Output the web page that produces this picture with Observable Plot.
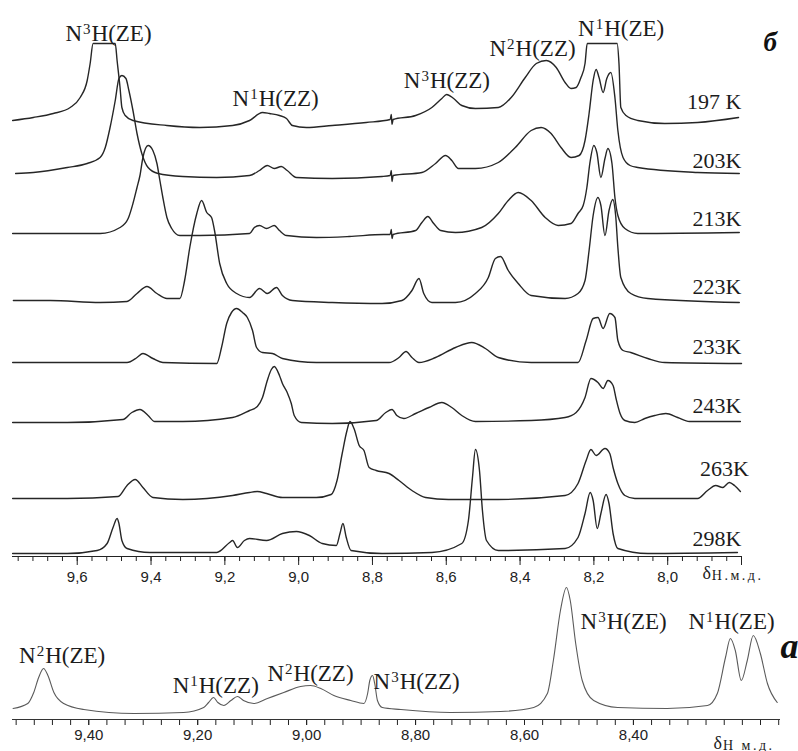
<!DOCTYPE html>
<html><head><meta charset="utf-8">
<script src="https://cdn.jsdelivr.net/npm/d3@7"></script>
<script src="https://cdn.jsdelivr.net/npm/@observablehq/plot@0.6"></script>
<style>
body{margin:0;background:#fff;}
#chart{position:relative;width:798px;height:751px;overflow:hidden;background:#fff;}
#chart svg{position:absolute;left:0;overflow:visible;background:transparent;}
</style></head><body><div id="chart"></div>
<script>
// ---------- data: top panel (б), chemical shift ppm vs relative intensity ----------
const temps = ["197 K","203K","213K","223K","233K","243K","263K","298K"];
const offsets = [439,383,324,254,193,135,58,4];          // stacking offsets (a.u.)
const labelY = [448,389,331,263,203,144,81,11];
const labelX = [7.80,7.80,7.80,7.80,7.80,7.80,7.78,7.80];

const t197 = [[9.775,-3],[9.719,0],[9.665,4],[9.619,10],[9.592,20],[9.573,37],[9.565,54],[9.557,74],[9.497,74],[9.492,57],[9.484,30],[9.479,10],[9.470,2],[9.449,-3],[9.357,-8],[9.268,-10],[9.179,-8],[9.133,-3],[9.098,5],[9.079,4],[9.052,2],[9.033,-1],[9.017,-8],[8.979,-10],[8.909,-8],[8.817,-5],[8.752,-2],[8.749,3],[8.747,-7],[8.744,-2],[8.683,2],[8.639,10],[8.612,19],[8.599,23],[8.580,19],[8.558,12],[8.521,9],[8.459,10],[8.424,20],[8.386,40],[8.356,54],[8.329,57],[8.302,50],[8.278,35],[8.262,29],[8.248,30],[8.235,40],[8.224,54],[8.218,74],[8.137,74],[8.132,54],[8.127,10],[8.113,2],[8.081,-3],[8.008,-6],[7.919,-5],[7.808,0]];
const t203 = [[9.767,0],[9.719,1],[9.627,6],[9.573,10],[9.538,16],[9.524,26],[9.511,46],[9.497,73],[9.487,95],[9.479,98],[9.468,95],[9.460,83],[9.449,63],[9.438,40],[9.425,20],[9.408,6],[9.381,0],[9.314,-3],[9.222,-4],[9.133,-2],[9.106,3],[9.085,8],[9.066,5],[9.047,7],[9.031,3],[9.006,-4],[8.909,-5],[8.774,-3],[8.752,-2],[8.749,3],[8.747,-8],[8.744,-2],[8.666,1],[8.629,10],[8.602,18],[8.585,13],[8.567,5],[8.521,5],[8.459,11],[8.413,26],[8.370,43],[8.343,46],[8.316,40],[8.289,26],[8.262,16],[8.240,18],[8.224,33],[8.213,60],[8.202,93],[8.194,104],[8.186,96],[8.175,81],[8.165,95],[8.154,101],[8.143,76],[8.135,43],[8.121,16],[8.102,8],[8.081,6],[7.919,1],[7.806,0]];
const t213 = [[9.775,-1],[9.627,-1],[9.538,-1],[9.484,5],[9.462,14],[9.449,29],[9.438,45],[9.430,57],[9.422,75],[9.408,87],[9.395,82],[9.384,69],[9.376,52],[9.368,35],[9.357,15],[9.344,4],[9.322,-3],[9.268,-3],[9.133,-1],[9.120,5],[9.106,7],[9.087,4],[9.066,7],[9.052,2],[9.033,-3],[8.952,-5],[8.863,-4],[8.770,-2],[8.752,-2],[8.749,3],[8.747,-6],[8.744,-2],[8.683,2],[8.666,10],[8.650,16],[8.634,9],[8.615,2],[8.575,0],[8.504,5],[8.459,19],[8.432,32],[8.405,40],[8.370,32],[8.332,15],[8.297,7],[8.262,9],[8.243,19],[8.229,27],[8.219,45],[8.211,69],[8.200,87],[8.192,80],[8.181,55],[8.170,74],[8.162,84],[8.151,69],[8.143,35],[8.135,17],[8.116,4],[8.081,-1],[7.806,0]];
const t223 = [[9.773,2],[9.673,2],[9.538,0],[9.465,1],[9.438,9],[9.411,16],[9.384,9],[9.357,4],[9.322,4],[9.309,22],[9.295,55],[9.276,89],[9.263,102],[9.249,90],[9.236,85],[9.228,72],[9.214,39],[9.195,19],[9.168,9],[9.133,5],[9.106,14],[9.085,9],[9.060,15],[9.044,7],[9.017,2],[8.909,0],[8.774,-1],[8.720,2],[8.693,12],[8.674,24],[8.661,9],[8.639,0],[8.575,0],[8.521,9],[8.486,25],[8.467,44],[8.453,46],[8.432,32],[8.405,19],[8.370,7],[8.278,4],[8.243,9],[8.224,22],[8.213,52],[8.202,87],[8.189,105],[8.181,97],[8.170,67],[8.159,92],[8.149,103],[8.141,87],[8.135,55],[8.127,25],[8.100,9],[8.054,4],[7.806,0]];
const t233 = [[9.775,1],[9.627,1],[9.465,1],[9.438,6],[9.422,10],[9.395,5],[9.368,1],[9.222,0],[9.209,16],[9.195,40],[9.182,51],[9.168,55],[9.152,51],[9.139,46],[9.125,33],[9.114,16],[9.098,11],[9.071,10],[9.044,5],[8.952,1],[8.755,1],[8.728,6],[8.709,12],[8.693,6],[8.674,1],[8.629,6],[8.575,16],[8.531,21],[8.494,15],[8.459,6],[8.370,1],[8.243,1],[8.221,23],[8.202,45],[8.189,46],[8.175,35],[8.157,50],[8.143,46],[8.135,23],[8.121,13],[8.100,11],[8.054,5],[8.008,1],[7.800,0]];
const t243 = [[9.775,-1],[9.627,-1],[9.476,2],[9.452,9],[9.430,12],[9.408,6],[9.390,0],[9.314,0],[9.179,4],[9.133,11],[9.112,15],[9.098,24],[9.085,41],[9.074,52],[9.066,55],[9.052,46],[9.044,38],[9.031,29],[9.020,18],[9.012,6],[8.993,-1],[8.909,-2],[8.790,1],[8.764,9],[8.747,12],[8.734,6],[8.715,3],[8.683,8],[8.647,14],[8.612,19],[8.585,14],[8.558,6],[8.521,0],[8.370,1],[8.278,4],[8.248,9],[8.224,24],[8.208,43],[8.189,39],[8.175,33],[8.162,41],[8.148,36],[8.140,23],[8.129,8],[8.116,1],[8.089,-1],[8.062,3],[8.035,6],[8.005,8],[7.973,4],[7.941,0],[7.803,0]];
const t263 = [[9.775,0],[9.627,0],[9.489,2],[9.465,13],[9.443,19],[9.422,11],[9.395,1],[9.314,-1],[9.179,3],[9.133,6],[9.112,7],[9.087,5],[9.044,1],[8.952,1],[8.912,4],[8.896,18],[8.882,45],[8.869,68],[8.861,77],[8.850,70],[8.836,53],[8.823,48],[8.809,31],[8.790,28],[8.755,25],[8.728,18],[8.693,8],[8.656,1],[8.594,-1],[8.459,-1],[8.278,3],[8.243,15],[8.221,38],[8.208,49],[8.194,43],[8.170,50],[8.157,45],[8.148,31],[8.135,15],[8.116,3],[8.089,0],[7.919,0],[7.892,8],[7.870,13],[7.851,11],[7.833,16],[7.819,13],[7.803,7]];
const t298 = [[9.775,-1],[9.627,-1],[9.546,2],[9.519,9],[9.503,25],[9.492,34],[9.487,29],[9.479,12],[9.465,4],[9.403,0],[9.222,0],[9.187,10],[9.179,12],[9.166,5],[9.147,12],[9.133,14],[9.087,12],[9.044,19],[9.006,21],[8.971,17],[8.936,9],[8.898,7],[8.888,19],[8.880,29],[8.871,15],[8.858,2],[8.774,-1],[8.639,0],[8.558,9],[8.540,32],[8.529,75],[8.521,103],[8.510,82],[8.502,42],[8.491,12],[8.459,2],[8.278,4],[8.243,15],[8.224,39],[8.210,60],[8.202,52],[8.191,24],[8.181,39],[8.167,58],[8.159,49],[8.148,19],[8.135,4],[8.054,-1],[7.811,0]];
const topTraces = [t197,t203,t213,t223,t233,t243,t263,t298];

const annotTopLabels = ["N³H(ZE)","N¹H(ZZ)","N³H(ZZ)","N²H(ZZ)","N¹H(ZE)"];
const annotTopPPM = [9.632,9.179,8.715,8.483,8.243];
const annotTopY = [516,451,469,501,521];

const topMajor = [9.6,9.4,9.2,9.0,8.8,8.6,8.4,8.2,8.0,7.8];
const topMinor = d3.range(0,50).map(k => +(9.76 - k*0.04).toFixed(2));

// ---------- data: bottom panel (а), 298 K reference spectrum ----------
const bottomOffset = 8;
const ta = [[9.539,3],[9.512,8],[9.501,19],[9.492,34],[9.483,43],[9.475,36],[9.464,19],[9.446,8],[9.409,2],[9.317,-2],[9.226,-1],[9.189,4],[9.180,9],[9.171,14],[9.163,9],[9.152,6],[9.139,11],[9.127,15],[9.116,11],[9.097,8],[9.072,13],[9.042,19],[9.011,25],[8.993,26],[8.974,23],[8.950,16],[8.919,11],[8.895,8],[8.888,18],[8.884,31],[8.879,36],[8.875,28],[8.870,11],[8.861,4],[8.827,2],[8.736,-1],[8.644,0],[8.583,4],[8.558,18],[8.547,51],[8.534,101],[8.523,124],[8.516,111],[8.506,68],[8.494,31],[8.473,11],[8.429,4],[8.338,3],[8.264,6],[8.246,18],[8.231,54],[8.222,73],[8.213,61],[8.202,31],[8.191,51],[8.180,76],[8.167,58],[8.154,28],[8.136,9]];
const annotBotLabels = ["N²H(ZE)","N¹H(ZZ)","N²H(ZZ)","N³H(ZZ)","N³H(ZE)","N¹H(ZE)"];
const annotBotPPM = [9.528,9.246,9.072,8.877,8.497,8.299];
const annotBotY = [57,27,39,31,91,91];
const botMajor = [9.4,9.2,9.0,8.8,8.6,8.4];
const botMinor = d3.range(-38,5).map(k => +(9.4 + k/30).toFixed(4));

// ---------- build ----------
const serif = "'Liberation Serif','Times New Roman',serif";
const sans = "'Liberation Sans',Arial,sans-serif";
const ink = "#1c1c1c";

const topRows = topTraces.flatMap((t,i) => t.map(([ppm,v]) => ({temp: temps[i], ppm, y: v + offsets[i]})));
const botRows = ta.map(([ppm,v]) => ({ppm, y: v + bottomOffset}));
const annotTop = annotTopLabels.map((label,i) => ({label, ppm: annotTopPPM[i], y: annotTopY[i]}));
const annotBot = annotBotLabels.map((label,i) => ({label, ppm: annotBotPPM[i], y: annotBotY[i]}));

const topPlot = Plot.plot({
  width: 798, height: 584,
  marginLeft: 12, marginRight: 57, marginTop: 0, marginBottom: 28,
  x: {domain: [9.7754, 7.8]},
  y: {domain: [0, 556], axis: null},
  style: {fontFamily: sans, fontSize: "15px", color: "#222", background: "transparent", overflow: "visible"},
  marks: [
    Plot.axisX({ticks: topMinor, tickSize: 5, tickFormat: () => "", label: null}),
    Plot.axisX({ticks: topMajor, tickSize: 9, tickPadding: 6, label: null,
      tickFormat: d => d < 7.9 ? "" : d.toFixed(1).replace(".", ",")}),
    Plot.ruleY([0], {stroke: "#222"}),
    Plot.line(topRows, {x: "ppm", y: "y", z: "temp", curve: "monotone-x", stroke: "#262626", strokeWidth: 1.4}),
    Plot.text(temps, {x: (d,i) => labelX[i], y: (d,i) => labelY[i], text: d => d, textAnchor: "end", lineAnchor: "bottom",
      fontSize: 22, fontFamily: serif, fill: ink}),
    Plot.text(annotTop, {x: "ppm", y: "y", text: "label", textAnchor: "start", lineAnchor: "bottom",
      fontSize: 23, fontFamily: serif, fill: ink}),
    Plot.text(["δH.м.д."], {x: [7.906], frameAnchor: "bottom", dy: 22, text: d => d, textAnchor: "start", lineAnchor: "bottom",
      fontFamily: serif, fill: ink}),
    Plot.text(["б"], {frameAnchor: "top-right", dx: 22, dy: 50, text: d => d, textAnchor: "start", lineAnchor: "bottom",
      fontSize: 27, fontWeight: "bold", fontStyle: "italic", fontFamily: serif, fill: "#111"})
  ]
});

const botPlot = Plot.plot({
  width: 798, height: 167,
  marginLeft: 12, marginRight: 18, marginTop: 0, marginBottom: 32,
  x: {domain: [9.54, 8.13]},
  y: {domain: [0, 135], axis: null},
  style: {fontFamily: sans, fontSize: "15px", color: "#222", background: "transparent", overflow: "visible"},
  marks: [
    Plot.axisX({ticks: botMinor, tickSize: 6, tickFormat: () => "", label: null}),
    Plot.axisX({ticks: botMajor, tickSize: 6, tickPadding: 4, label: null, tickFormat: d => d.toFixed(2).replace(".", ",")}),
    Plot.ruleY([0], {stroke: "#333"}),
    Plot.line(botRows, {x: "ppm", y: "y", curve: "monotone-x", stroke: "#5a5a5a", strokeWidth: 1.1}),
    Plot.text(annotBot, {x: "ppm", y: "y", text: "label", textAnchor: "start", lineAnchor: "bottom",
      fontSize: 23, fontFamily: serif, fill: ink}),
    Plot.text(["δH м.д."], {x: [8.253], frameAnchor: "bottom", dy: 29, text: d => d, textAnchor: "start", lineAnchor: "bottom",
      fontFamily: serif, fill: ink}),
    Plot.text(["а"], {frameAnchor: "top-right", dx: 0, dy: 73, text: d => d, textAnchor: "start", lineAnchor: "bottom",
      fontSize: 36, fontWeight: "bold", fontStyle: "italic", fontFamily: serif, fill: "#111"})
  ]
});

// ---------- rich text (superscripts, subscripts) ----------
const NS = "http://www.w3.org/2000/svg";
const supMap = {"¹":"1","²":"2","³":"3"};
function tspan(s, attrs) {
  const e = document.createElementNS(NS, "tspan");
  e.textContent = s;
  for (const k in attrs) e.setAttribute(k, attrs[k]);
  return e;
}
function rich(svg) {
  svg.querySelectorAll("text").forEach(t => {
    if (t.querySelector("tspan")) return;
    const s = t.textContent;
    const chars = [...s];
    const i = chars.findIndex(c => c in supMap);
    if (i >= 0) {
      t.textContent = "";
      t.append(tspan(chars.slice(0,i).join(""), {}),
               tspan(supMap[chars[i]], {"font-size": 15, dy: -7, dx: 1}),
               tspan(chars.slice(i+1).join(""), {dy: 7, dx: 1}));
    } else if (s.startsWith("δ")) {
      t.textContent = "";
      t.append(tspan("δ", {"font-size": 18}),
               tspan(s.slice(1), {"font-size": 14, "letter-spacing": 2.5, dx: 1, dy: 1}));
    }
  });
}
rich(topPlot); rich(botPlot);

topPlot.style.top = "0px";
botPlot.style.top = "584px";
const root = document.getElementById("chart");
root.append(topPlot, botPlot);
</script></body></html>
